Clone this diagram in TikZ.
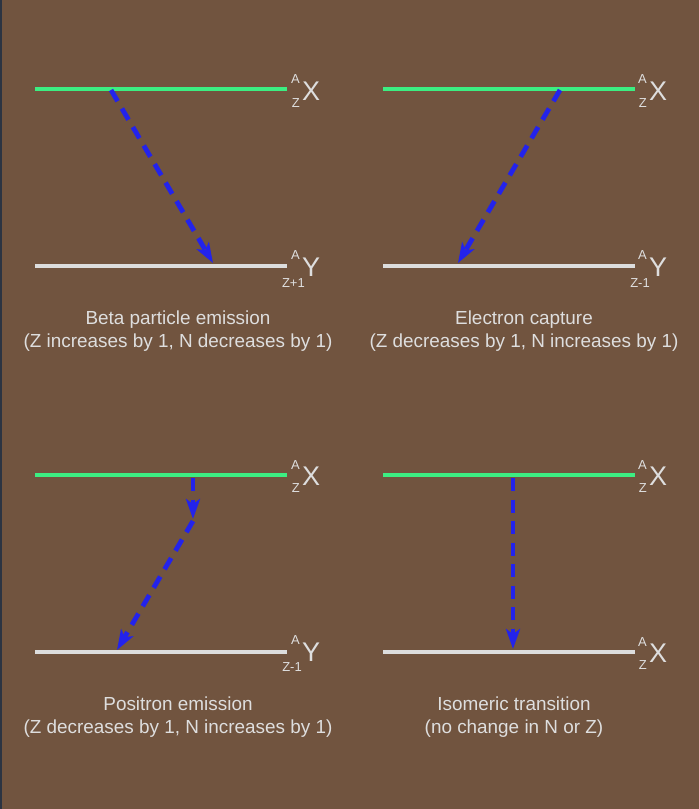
\documentclass[tikz,border=0pt]{standalone}
\usepackage{fontspec}
\setmainfont{Liberation Sans}
\usetikzlibrary{positioning,arrows.meta}

\definecolor{bgbrown}{RGB}{113,84,63}
\definecolor{edgeblue}{RGB}{44,52,66}
\definecolor{levelgreen}{RGB}{60,238,130}
\definecolor{levelgray}{RGB}{221,221,221}
\definecolor{decayblue}{RGB}{35,35,235}
\definecolor{captext}{RGB}{222,222,222}

\tikzset{
	parent/.style={draw=levelgreen, line width=4pt},
	daughter/.style={draw=levelgray, line width=4pt},
	decay/.style={draw=decayblue, line width=4.8pt, dash pattern=on 13pt off 8.5pt, -{Stealth[length=20pt,width=14pt,inset=5pt]}},
	elem/.style={text=captext, font=\fontsize{27}{27}\selectfont, inner sep=0pt, anchor=base west},
	nucl/.style={text=captext, font=\fontsize{13}{13}\selectfont, inner sep=0pt, anchor=base east},
	caption/.style={text=captext, font=\fontsize{18.9}{23.5}\selectfont, inner sep=0pt, anchor=base},
}

\begin{document}
\begin{tikzpicture}[x=1pt,y=-1pt]
		\fill[bgbrown] (0,0) rectangle (699,809);
		\fill[edgeblue] (0,0) rectangle (2,809);
		
		% beta particle emission
		\draw[parent] (35,89) -- (287,89);
		\draw[daughter] (35,266) -- (287,266);
		\node[elem] (betaX) at (302,100) {X};
		\node[nucl] (betaXa) at (300,83.5) {A};
		\node[nucl] (betaXz) at (300,107) {Z};
		\node[elem] (betaY) at (302,276) {Y};
		\node[nucl] (betaYa) at (300,259) {A};
		\node[nucl] (betaYz) at (305,287) {Z+1};
		\coordinate (betaS) at (111,90);
		\coordinate (betaE) at (213,263);
		\draw[decay] (betaS) -- (betaE);
		\node[caption] (betaT) at (178,324) {Beta particle emission};
		\node[caption, shift={(0,23.5)}] (betaN) at (betaT.base) {(Z increases by 1, N decreases by 1)};
		
		% electron capture
		\draw[parent] (383,89) -- (635,89);
		\draw[daughter] (383,266) -- (635,266);
		\node[elem] (ecX) at (649,100) {X};
		\node[nucl] (ecXa) at (647,83.5) {A};
		\node[nucl] (ecXz) at (647,107) {Z};
		\node[elem] (ecY) at (649,276) {Y};
		\node[nucl] (ecYa) at (647,259) {A};
		\node[nucl] (ecYz) at (650,287) {Z-1};
		\coordinate (ecS) at (560,90);
		\coordinate (ecE) at (458,263);
		\draw[decay] (ecS) -- (ecE);
		\node[caption] (ecT) at (524,324) {Electron capture};
		\node[caption, shift={(0,23.5)}] (ecN) at (ecT.base) {(Z decreases by 1, N increases by 1)};
		
		% positron emission
		\draw[parent] (35,475) -- (287,475);
		\draw[daughter] (35,652) -- (287,652);
		\node[elem] (posX) at (302,485.5) {X};
		\node[nucl] (posXa) at (300,469) {A};
		\node[nucl] (posXz) at (300,492.5) {Z};
		\node[elem] (posY) at (302,661) {Y};
		\node[nucl] (posYa) at (300,644.5) {A};
		\node[nucl] (posYz) at (302,671) {Z-1};
		\coordinate (posS) at (193,478);
		\coordinate (posM) at (193,519);
		\coordinate (posR) at (193,521);
		\coordinate (posE) at (117,650);
		\draw[decay] (posS) -- (posM);
		\draw[decay] (posR) -- (posE);
		\node[caption] (posT) at (178,710) {Positron emission};
		\node[caption, shift={(0,23.5)}] (posN) at (posT.base) {(Z decreases by 1, N increases by 1)};
		
		% isomeric transition
		\draw[parent] (383,475) -- (635,475);
		\draw[daughter] (383,652) -- (635,652);
		\node[elem] (itX) at (649,485.5) {X};
		\node[nucl] (itXa) at (647,469) {A};
		\node[nucl] (itXz) at (647,492.5) {Z};
		\node[elem] (itXb) at (649,662.5) {X};
		\node[nucl] (itXba) at (647,646) {A};
		\node[nucl] (itXbz) at (647,669.5) {Z};
		\coordinate (itS) at (513,478);
		\coordinate (itE) at (513,649);
		\draw[decay] (itS) -- (itE);
		\node[caption] (itT) at (514,710) {Isomeric transition};
		\node[caption, shift={(0,23.5)}] (itN) at (itT.base) {(no change in N or Z)};
	\end{tikzpicture}
\end{document}
